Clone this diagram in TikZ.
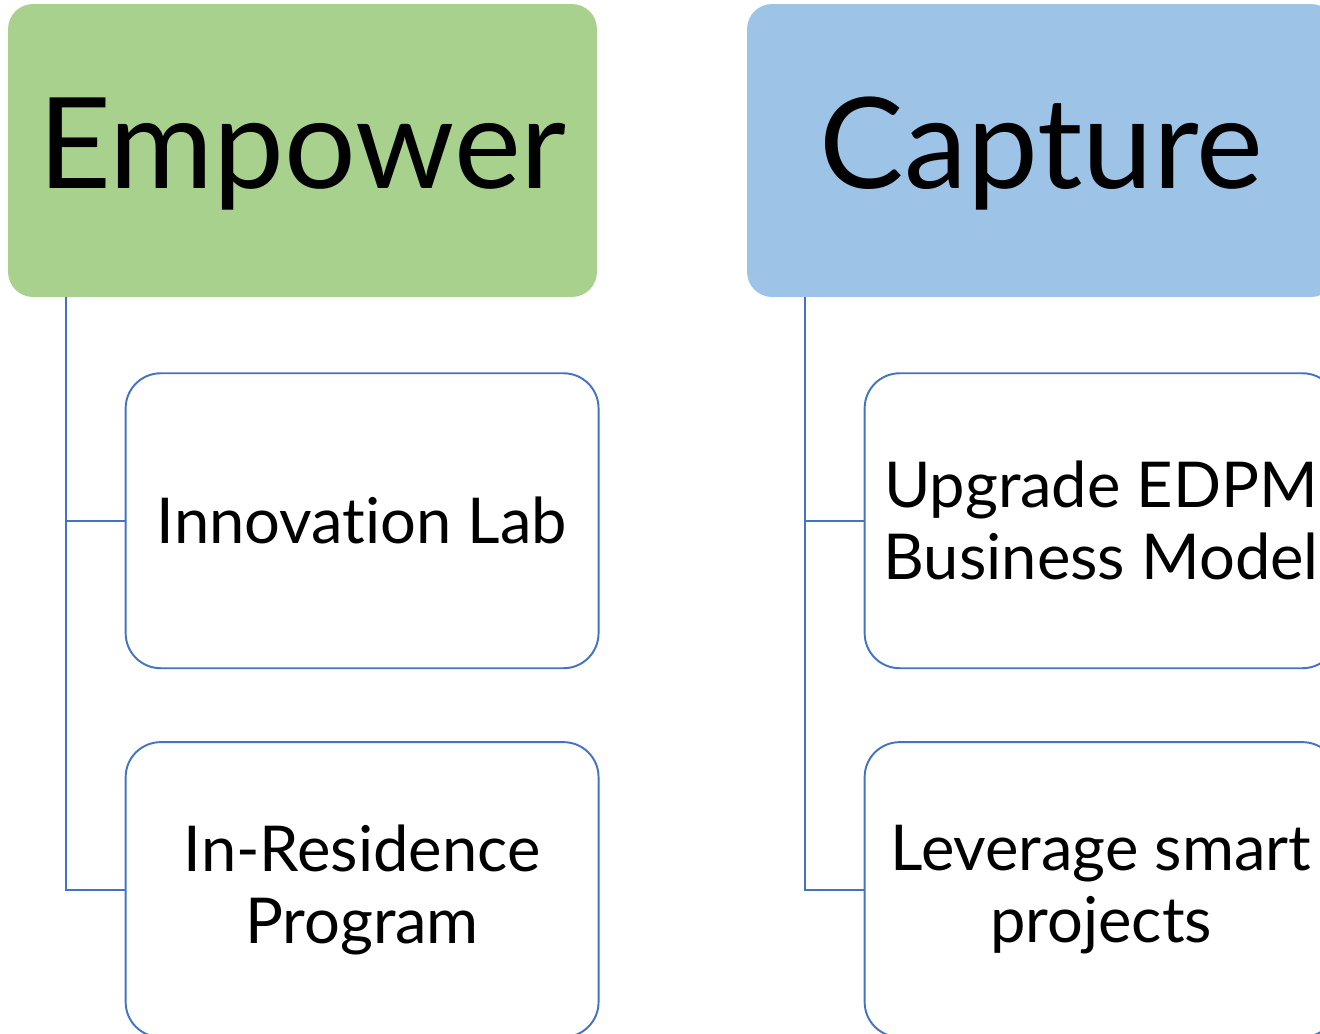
\documentclass[tikz,border=0pt]{standalone}
\usepackage{fontspec}
\setmainfont{Lato}[Ligatures=NoCommon]
\usepackage{xcolor}
\usetikzlibrary{positioning}
\definecolor{empowergreen}{HTML}{A9D18E}
\definecolor{captureblue}{HTML}{9DC3E6}
\definecolor{framecol}{HTML}{4472C4}

\begin{document}
\begin{tikzpicture}[x=0.02cm, y=-0.02cm, node distance=1.44cm]
  \tikzstyle{head}=[rounded corners=0.5cm, align=center, minimum width=11.78cm, minimum height=5.86cm, inner sep=0pt, text depth=0.3cm, font=\fontsize{72}{86}\selectfont]
  \tikzstyle{child}=[draw=framecol, line width=1.1pt, rounded corners=0.7cm, fill=white, align=center, minimum width=9.46cm, minimum height=5.9cm, inner sep=0pt, font=\fontsize{36}{41}\selectfont]
  \tikzstyle{link}=[draw=framecol, line width=1.1pt]
  \useasboundingbox (0,0) rectangle (1320,1034);

  \node[head, fill=empowergreen] (empower) at (302.5,150.5) {Empower};
  \node[head, fill=captureblue] (capture) at (1041.5,150.5) {Capture};

  \node[child, below=1.5cm of empower.south west, anchor=north west, xshift=2.34cm] (lab) {Innovation Lab};
  \node[child, below=of lab] (residence) {In-Residence\\Program};
  \node[child, below=1.5cm of capture.south west, anchor=north west, xshift=2.34cm] (edpm) {Upgrade EDPM\\Business Model};
  \node[child, below=of edpm] (smart) {Leverage smart\\projects};

  \draw[link] ([xshift=1.16cm]empower.south west) |- (lab.west);
  \draw[link] ([xshift=1.16cm]empower.south west) |- (residence.west);
  \draw[link] ([xshift=1.16cm]capture.south west) |- (edpm.west);
  \draw[link] ([xshift=1.16cm]capture.south west) |- (smart.west);
\end{tikzpicture}
\end{document}
